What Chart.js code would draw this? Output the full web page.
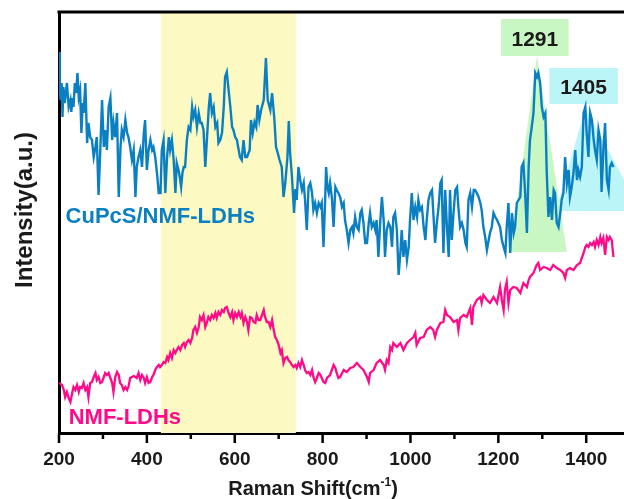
<!DOCTYPE html>
<html>
<head>
<meta charset="utf-8">
<script src="https://cdn.jsdelivr.net/npm/chart.js@4/dist/chart.umd.min.js"></script>
<style>
  html, body { margin: 0; padding: 0; background: #fff; }
</style>
</head>
<body>
<canvas id="chart" width="624" height="499"></canvas>
<script>
// Raman spectra (x in cm-1, intensity in arbitrary units)
const cupcsShift = [200,202,204,206,208,210,213,218,222,226,228,231,233,236,239,242,245,248,251,254,256,260,264,267,271,275,279,283,286,290,294,298,302,305,309,313,317,321,324,328,332,336,340,343,347,351,355,358,362,366,370,374,377,381,385,389,393,396,400,404,408,412,415,419,423,427,431,434,438,442,446,450,453,457,461,465,468,472,476,478,481,484,487,491,495,499,503,506,510,514,518,522,525,529,533,537,541,544,548,552,556,560,563,567,571,575,578,582,586,590,594,597,601,605,609,612,616,620,624,628,634,637,641,645,649,652,656,660,666,671,675,681,685,690,694,698,702,707,711,715,720,723,726,730,735,738,741,745,749,753,757,760,764,768,772,776,779,783,787,791,795,798,802,806,808,811,814,817,821,825,829,832,836,840,844,848,851,855,859,863,867,870,874,878,882,886,889,893,897,901,905,908,912,916,920,923,927,931,935,939,942,946,950,954,958,961,965,969,973,977,980,984,988,992,996,999,1003,1007,1011,1015,1018,1022,1026,1030,1034,1037,1041,1045,1049,1052,1056,1060,1064,1068,1071,1075,1079,1083,1087,1090,1094,1098,1102,1106,1109,1113,1117,1121,1125,1128,1132,1136,1140,1144,1147,1151,1155,1159,1162,1166,1170,1174,1178,1181,1185,1189,1193,1197,1200,1204,1208,1212,1216,1219,1223,1227,1231,1235,1238,1242,1246,1250,1253,1257,1261,1265,1269,1272,1276,1280,1284,1288,1291,1295,1299,1303,1307,1310,1314,1318,1322,1326,1329,1333,1337,1341,1344,1348,1352,1356,1360,1363,1367,1371,1375,1379,1382,1386,1390,1394,1398,1401,1405,1409,1413,1417,1420,1424,1428,1432,1435,1439,1443,1447,1451,1454,1458,1462];
const cupcsIntensity = [381,340,333,350,316,346,330,350,326,333,321,335,326,350,340,360,336,343,300,330,320,350,290,310,296,293,276,286,296,238,283,333,286,303,283,326,335,293,310,296,320,236,286,303,296,313,300,296,286,273,283,236,266,276,283,266,300,313,263,283,293,283,286,276,260,240,240,283,293,240,276,296,283,293,273,240,270,263,253,246,260,266,266,293,306,303,326,316,323,306,320,310,310,303,266,296,326,340,320,326,306,310,290,293,300,326,356,361,343,326,306,303,296,293,283,276,273,293,276,276,283,313,300,311,306,328,313,323,333,375,333,323,340,315,286,280,273,266,236,250,276,312,280,258,220,244,233,266,253,243,250,233,203,246,250,240,223,230,220,230,226,230,186,236,266,246,240,250,236,206,246,243,240,236,226,230,213,203,190,203,206,200,216,206,203,220,223,210,190,190,210,220,206,210,203,213,176,210,236,213,176,203,210,206,186,216,220,203,158,180,203,176,193,173,186,213,240,213,226,216,233,223,226,206,193,213,233,240,243,220,190,210,226,250,253,180,243,206,176,243,193,220,243,246,226,206,210,203,190,186,233,240,226,243,243,240,236,230,223,206,196,183,193,200,206,220,216,213,210,206,193,186,180,206,230,180,220,200,206,230,233,236,266,270,240,200,266,293,306,320,360,356,360,350,326,316,320,263,216,236,213,243,240,210,206,220,233,240,276,250,263,236,246,260,283,253,263,256,266,320,326,300,276,320,313,293,283,273,303,293,241,283,310,253,243,266,270,266];

const nmfShift = [200,207,211,214,218,222,226,230,233,237,241,245,248,252,256,260,264,267,271,275,279,283,286,290,294,298,302,305,309,313,317,321,324,328,332,336,339,343,347,351,355,358,362,366,370,374,377,381,385,389,393,396,400,404,408,412,415,419,423,427,430,434,438,442,446,449,453,457,461,465,468,472,476,480,484,487,491,495,499,503,506,510,514,518,521,525,529,533,537,540,544,548,552,556,559,563,567,571,575,578,582,586,590,594,597,601,605,609,613,616,620,624,628,631,635,639,643,647,650,654,658,662,666,669,673,677,681,685,688,692,696,700,704,707,711,715,719,722,726,730,734,738,741,745,749,753,757,760,764,768,772,776,779,783,787,791,795,802,806,810,817,825,829,832,836,840,848,855,863,870,878,886,893,901,905,908,916,923,931,939,942,946,950,954,958,961,969,977,984,992,999,1007,1011,1014,1022,1030,1037,1045,1052,1056,1060,1068,1075,1079,1083,1090,1098,1106,1109,1113,1121,1128,1136,1140,1143,1151,1159,1162,1166,1174,1181,1189,1197,1204,1208,1212,1215,1219,1223,1227,1234,1242,1250,1257,1265,1269,1272,1280,1287,1291,1295,1303,1310,1318,1325,1333,1341,1348,1352,1356,1363,1371,1379,1386,1394,1398,1401,1405,1409,1413,1417,1420,1424,1428,1432,1435,1439,1443,1447,1451,1454,1458,1462];
const nmfIntensity = [50,48,43,36,41,35,31,40,46,43,48,41,46,45,50,43,46,36,50,51,56,60,53,56,50,51,56,60,58,60,55,50,41,56,61,58,50,48,43,46,43,46,55,56,57,56,55,60,53,58,55,50,56,50,51,56,58,63,66,68,66,68,71,70,76,73,80,75,83,80,83,86,83,88,90,86,91,93,90,95,103,106,100,106,116,113,118,106,111,116,113,118,115,120,115,121,118,123,121,125,126,120,116,121,113,120,116,121,116,120,110,116,111,103,116,115,111,110,118,113,113,118,123,116,111,111,106,113,105,96,93,88,80,83,70,75,76,73,71,68,66,68,65,70,66,73,68,63,60,61,58,63,56,51,55,60,58,51,50,55,58,68,65,60,55,56,63,61,65,66,70,66,63,56,51,60,63,70,73,68,63,73,70,86,83,90,86,90,83,90,93,96,100,88,95,96,103,106,103,96,103,110,111,123,118,116,111,113,103,115,118,116,125,108,126,133,136,130,138,133,130,136,130,146,133,123,143,151,130,143,146,145,140,150,146,153,156,160,168,170,163,166,165,163,168,165,163,160,155,163,165,163,168,170,180,186,188,186,190,188,191,186,193,188,196,190,195,178,196,193,196,193,176];

const xTickValues = [200,300,400,500,600,700,800,900,1000,1100,1200,1300,1400];
const seriesNames = ['CuPcS/NMF-LDHs', 'NMF-LDHs'];
const seriesColors = ['#0a80c2', '#ff0a88'];

// shaded regions: yellow band and the two peak markers
const bandRange = [432, 739];
const peakLabels = ['1291', '1405'];
const peakApex = [[1288, 377], [1398, 325]];
const peakBase = [[1227, 1356, 181], [1331, 1525, 222]];
const peakBox = [[1206, 1360, 377, 414], [1316, 1472, 329, 365]];
const peakColors = ['#c8f7c3', '#bcf5f8'];

const FONT = "'Liberation Sans', Arial, sans-serif";

const decor = {
  id: 'decor',
  beforeDatasetsDraw(chart) {
    const { ctx, chartArea: a } = chart;
    const x = chart.scales.x, y = chart.scales.y;
    ctx.save();
    ctx.beginPath();
    ctx.rect(a.left, a.top, a.right - a.left, a.bottom - a.top);
    ctx.clip();

    const b0 = x.getPixelForValue(bandRange[0]), b1 = x.getPixelForValue(bandRange[1]);
    ctx.fillStyle = '#fdf9c3';
    ctx.fillRect(b0, a.top, b1 - b0, a.bottom - a.top);

    for (let i = peakLabels.length - 1; i >= 0; i--) {
      ctx.fillStyle = peakColors[i];
      ctx.beginPath();
      ctx.moveTo(x.getPixelForValue(peakApex[i][0]), y.getPixelForValue(peakApex[i][1]));
      ctx.lineTo(x.getPixelForValue(peakBase[i][1]), y.getPixelForValue(peakBase[i][2]));
      ctx.lineTo(x.getPixelForValue(peakBase[i][0]), y.getPixelForValue(peakBase[i][2]));
      ctx.closePath();
      ctx.fill();

      const bx0 = x.getPixelForValue(peakBox[i][0]), bx1 = x.getPixelForValue(peakBox[i][1]);
      const by0 = y.getPixelForValue(peakBox[i][3]), by1 = y.getPixelForValue(peakBox[i][2]);
      ctx.fillRect(bx0, by0, bx1 - bx0, by1 - by0);

      ctx.fillStyle = '#1a1a1a';
      ctx.font = 'bold 21px ' + FONT;
      ctx.textAlign = 'center';
      ctx.textBaseline = 'alphabetic';
      ctx.fillText(peakLabels[i], (bx0 + bx1) / 2, (by0 + by1) / 2 + 8);
    }
    ctx.restore();
  },
  afterDatasetsDraw(chart) {
    const { ctx, chartArea: a } = chart;
    const x = chart.scales.x, y = chart.scales.y;
    ctx.save();

    // series names next to their curves
    ctx.font = 'bold 22px ' + FONT;
    ctx.textAlign = 'left';
    ctx.textBaseline = 'alphabetic';
    ctx.fillStyle = seriesColors[0];
    ctx.fillText(seriesNames[0], x.getPixelForValue(215), y.getPixelForValue(210));
    ctx.fillStyle = seriesColors[1];
    ctx.fillText(seriesNames[1], x.getPixelForValue(222), y.getPixelForValue(9));

    // top frame line
    ctx.strokeStyle = '#000';
    ctx.lineWidth = 3;
    ctx.beginPath();
    ctx.moveTo(a.left - 1.5, a.top);
    ctx.lineTo(chart.width, a.top);
    ctx.stroke();

    // outward tick marks, minor ones shorter
    ctx.lineWidth = 2.5;
    xTickValues.forEach(v => {
      const px = x.getPixelForValue(v);
      ctx.beginPath();
      ctx.moveTo(px, a.bottom);
      ctx.lineTo(px, a.bottom + (v % 200 === 0 ? 10 : 6));
      ctx.stroke();
    });

    // x title with superscript
    ctx.fillStyle = '#1a1a1a';
    const main = 'Raman Shift(cm', sup = '-1', close = ')';
    ctx.font = 'bold 20px ' + FONT;
    const wMain = ctx.measureText(main).width, wClose = ctx.measureText(close).width;
    ctx.font = 'bold 12px ' + FONT;
    const wSup = ctx.measureText(sup).width;
    let tx = 313 - (wMain + wSup + wClose) / 2;
    const ty = 495;
    ctx.textAlign = 'left';
    ctx.font = 'bold 20px ' + FONT;
    ctx.fillText(main, tx, ty);
    tx += wMain;
    ctx.font = 'bold 12px ' + FONT;
    ctx.fillText(sup, tx, ty - 9);
    tx += wSup;
    ctx.font = 'bold 20px ' + FONT;
    ctx.fillText(close, tx, ty);

    // y title
    ctx.translate(32, 210);
    ctx.rotate(-Math.PI / 2);
    ctx.textAlign = 'center';
    ctx.font = 'bold 24px ' + FONT;
    ctx.fillText('Intensity(a.u.)', 0, 0);
    ctx.restore();
  }
};

const ctx = document.getElementById('chart').getContext('2d');

new Chart(ctx, {
  type: 'line',
  data: {
    datasets: [
      {
        label: seriesNames[0],
        data: cupcsShift.map((v, i) => ({ x: v, y: cupcsIntensity[i] })),
        borderColor: seriesColors[0],
        borderWidth: 2.4,
        pointRadius: 0,
        tension: 0
      },
      {
        label: seriesNames[1],
        data: nmfShift.map((v, i) => ({ x: v, y: nmfIntensity[i] })),
        borderColor: seriesColors[1],
        borderWidth: 2.3,
        pointRadius: 0,
        tension: 0
      }
    ]
  },
  options: {
    responsive: false,
    devicePixelRatio: 1,
    animation: false,
    layout: { padding: { top: 12, right: 0, bottom: 0, left: 0 } },
    plugins: { legend: { display: false }, tooltip: { enabled: false } },
    scales: {
      x: {
        type: 'linear',
        min: 200,
        max: 1486,
        afterBuildTicks: scale => { scale.ticks = xTickValues.map(v => ({ value: v })); },
        afterFit: scale => { scale.height = 66; },
        ticks: {
          autoSkip: false,
          maxRotation: 0,
          padding: 15,
          color: '#1a1a1a',
          font: { family: FONT, size: 19, weight: 'bold' },
          callback: v => (v % 200 === 0 ? String(v) : '')
        },
        grid: { drawOnChartArea: false, drawTicks: false },
        border: { display: true, color: '#000', width: 3 }
      },
      y: {
        min: 0,
        max: 421,
        afterFit: scale => { scale.width = 59; },
        ticks: { display: false },
        grid: { drawOnChartArea: false, drawTicks: false },
        border: { display: true, color: '#000', width: 3 }
      }
    }
  },
  plugins: [decor]
});
</script>
</body>
</html>
